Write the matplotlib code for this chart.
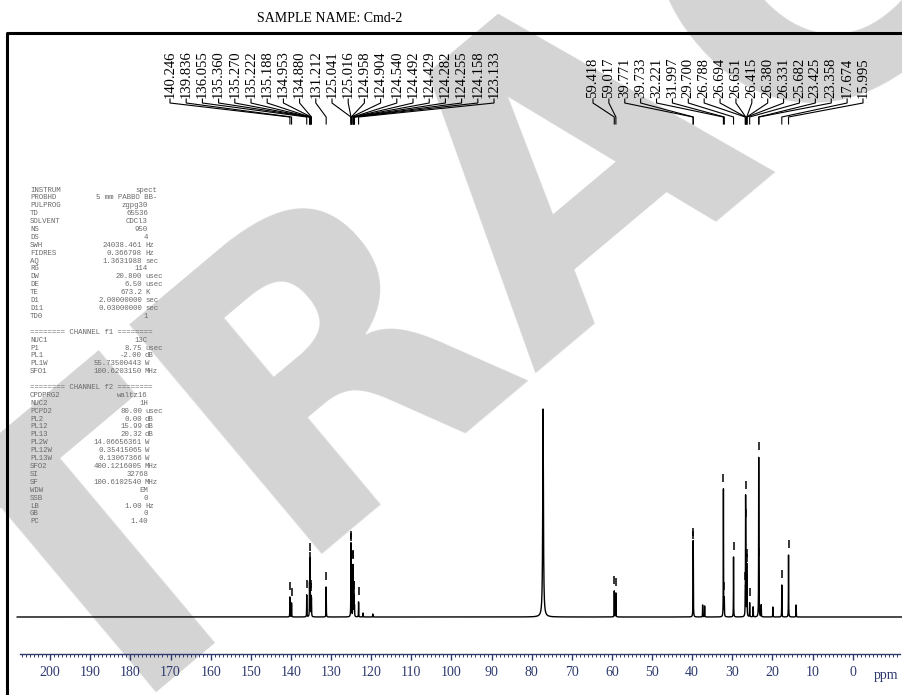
import numpy as np
import matplotlib.pyplot as plt

W, H = 903, 695
SERIF = 'Liberation Serif'
MONO = 'Liberation Mono'
NAVY = '#2e3a6e'

# labelled peaks (ppm, relative height)
left_ppm = [140.246, 139.836, 136.055, 135.360, 135.270, 135.222, 135.188,
            134.953, 134.880, 131.212, 125.041, 125.016, 124.958, 124.904,
            124.540, 124.492, 124.429, 124.282, 124.255, 124.158, 123.133]
left_h = [20, 14, 22, 30, 28, 36, 30, 18, 16, 30, 42, 40, 20, 18,
          40, 36, 14, 12, 12, 10, 15]
right_ppm = [59.418, 59.017, 39.771, 39.733, 32.221, 31.997, 29.700, 26.788,
             26.694, 26.651, 26.415, 26.380, 26.331, 25.682, 23.425, 23.358,
             17.674, 15.995]
right_h = [26, 24, 55, 50, 128, 18, 60, 18, 100, 58, 38, 26, 14, 14, 155, 28,
           32, 62]
# unlabelled peaks (solvent and small impurities)
other_ppm = [77.16, 122.0, 119.6, 37.4, 36.9, 24.8, 22.8, 19.9, 14.1]
other_h = [208, 4, 3, 12, 11, 10, 12, 10, 12]
other_w = [0.10, 0.03, 0.03, 0.03, 0.03, 0.03, 0.03, 0.03, 0.03]

scale_ticks = list(range(0, 201, 10))

param_names = ['INSTRUM', 'PROBHD', 'PULPROG', 'TD', 'SOLVENT', 'NS', 'DS',
               'SWH', 'FIDRES', 'AQ', 'RG', 'DW', 'DE', 'TE', 'D1', 'D11',
               'TD0', '', '======== CHANNEL f1 ========', 'NUC1', 'P1', 'PL1',
               'PL1W', 'SFO1', '', '======== CHANNEL f2 ========', 'CPDPRG2',
               'NUC2', 'PCPD2', 'PL2', 'PL12', 'PL13', 'PL2W', 'PL12W',
               'PL13W', 'SFO2', 'SI', 'SF', 'WDW', 'SSB', 'LB', 'GB', 'PC']
param_values = ['spect', '5 mm PABBO BB-', 'zgpg30', '65536', 'CDCl3', '950',
                '4', '24038.461', '0.366798', '1.3631988', '114', '20.800',
                '6.50', '673.2', '2.00000000', '0.03000000', '1', '', '',
                '13C', '8.75', '-2.00', '55.73500443', '100.6203150', '', '',
                'waltz16', '1H', '80.00', '0.00', '15.99', '20.32',
                '14.06656361', '0.35415065', '0.13067366', '400.1216005',
                '32768', '100.6102540', 'EM', '0', '1.00', '0', '1.40']
param_units = ['', '', '', '', '', '', '', 'Hz', 'Hz', 'sec', '', 'usec',
               'usec', 'K', 'sec', 'sec', '', '', '', '', 'usec', 'dB', 'W',
               'MHz', '', '', '', '', 'usec', 'dB', 'dB', 'dB', 'W', 'W', 'W',
               'MHz', '', 'MHz', '', '', 'Hz', '', '']

fig = plt.figure(figsize=(W / 100, H / 100), dpi=100)

# pixel-space overlay for frame, table and labels
ax = fig.add_axes([0, 0, 1, 1])
ax.set_xlim(0, W)
ax.set_ylim(H, 0)
ax.axis('off')

# huge diagonal watermark, only a few letters fall inside the picture
ax.text(-385, 1115, 'RETRACTED', rotation=40, rotation_mode='anchor',
        fontsize=295, color='#d4d4d4', ha='left', va='baseline',
        fontweight='bold', zorder=0, clip_on=True)

ax.plot([7, 7, W], [H, 33, 33], color='k', lw=2.2, solid_capstyle='butt',
        zorder=3)
ax.text(330, 18, 'SAMPLE NAME: Cmd-2', ha='center', va='center',
        fontsize=10, family=SERIF)

# acquisition parameter table
y0, dy = 190, 7.9
for i, (n, v, u) in enumerate(zip(param_names, param_values, param_units)):
    yy = y0 + i * dy
    kw = dict(fontsize=5.3, family=MONO, color='#6a6a6a', va='center')
    ax.text(30, yy, n, ha='left', **kw)
    if u:
        ax.text(142, yy, v, ha='right', **kw)
        ax.text(145, yy, u, ha='left', **kw)
    elif n in ('INSTRUM', 'PROBHD'):
        ax.text(157, yy, v, ha='right', **kw)
    else:
        ax.text(148, yy, v, ha='right', **kw)

# spectrum
sp = fig.add_axes([0, 0, 1, 1])
sp.set_xlim(212.49, -12.53)
sp.set_ylim(-(H - 617), 617)
sp.axis('off')

all_ppm = np.array(left_ppm + right_ppm + other_ppm)
all_h = np.array(left_h + right_h + other_h)
all_w = np.array([0.03] * (len(left_ppm) + len(right_ppm)) + other_w)


def spectrum(x):
    x = np.atleast_1d(x)[:, None]
    return (all_h * all_w ** 2 / ((x - all_ppm) ** 2 + all_w ** 2)).sum(axis=1)


xs = np.arange(208.2, -12.5, -0.002)
sp.plot(xs, spectrum(xs), color='k', lw=1.0)

# peak-pick markers
lab_ppm = np.array(left_ppm + right_ppm)
tops = spectrum(lab_ppm)
sp.vlines(lab_ppm, tops + 7, tops + 15, color='k', lw=1.1)

# labels with connectors
to_px = sp.transData + ax.transData.inverted()
lab_x = list(np.linspace(170, 494, len(left_ppm))) + \
    list(np.linspace(593, 863, len(right_ppm)))
for p, lx in zip(lab_ppm, lab_x):
    px = to_px.transform((p, 0))[0]
    ax.plot([lx, lx, px, px], [99, 103, 117, 124], color='k', lw=0.8)
    ax.text(lx, 98, f'{p:.3f}', rotation=90, ha='center', va='bottom',
            fontsize=10.5, family=SERIF)

# ppm scale
sc = fig.add_axes([20 / W, (H - 654) / H, 880 / W, 0.0001])
sc.patch.set_alpha(0)
sc.set_xlim(207.51, -11.79)
for s in ('top', 'left', 'right'):
    sc.spines[s].set_visible(False)
sc.spines['bottom'].set_color(NAVY)
sc.spines['bottom'].set_linewidth(1.0)
sc.set_yticks([])
sc.set_xticks(scale_ticks)
sc.set_xticks(np.arange(-11, 208, 1), minor=True)
sc.tick_params(axis='x', which='major', direction='out', length=4.5, width=1,
               color=NAVY, labelcolor=NAVY, labelsize=10, pad=4)
sc.tick_params(axis='x', which='minor', direction='out', length=2, width=0.7,
               color=NAVY)
for t in sc.get_xticklabels():
    t.set_family(SERIF)
ax.text(886, 675, 'ppm', ha='center', va='center', fontsize=10,
        family=SERIF, color=NAVY)

fig.savefig('out.png', dpi=100)
